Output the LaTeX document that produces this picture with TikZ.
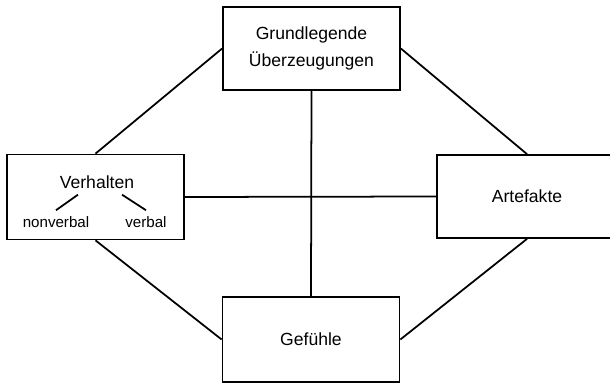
\documentclass[tikz,border=0pt]{standalone}
\usepackage{fontspec}
\setmainfont{Liberation Sans}
\usetikzlibrary{positioning}
\tikzset{
    every node/.style={font=\fontsize{10}{15}\selectfont},
    kulturbox/.style={draw, line width=1pt, minimum width=3.54cm,
        minimum height=1.7cm, align=center},
    kleintext/.style={font=\fontsize{8.6}{10}\selectfont},
    verbindung/.style={line width=1pt},
}

\begin{document}
\begin{tikzpicture}[x=0.02cm, y=-0.02cm]
            \useasboundingbox (0, 0) rectangle (610, 385);
            \clip (0, 0) rectangle (610, 385);
            \node[kulturbox, minimum height=1.66cm] (ueberz) at (311.5, 48.5)
                {Grundlegende\\Überzeugungen};
            \node[kulturbox] (verhalten) at (95.5, 197) {};
            \node[kulturbox, minimum width=3.6cm, minimum height=1.66cm]
                (artefakte) at (527, 196.5) {Artefakte};
            \node[kulturbox] (gefuehle) at (311, 339.5) {Gefühle};
            % Inhalt der Verhaltensbox
            \node (vtext) at (97, 182) {Verhalten};
            \node[kleintext] (nonverbal) at (56, 222) {nonverbal};
            \node[kleintext] (verbal) at (146, 222) {verbal};
            \draw[verbindung] ([xshift=-0.38cm]vtext.south) -- (nonverbal.north);
            \draw[verbindung] ([xshift=0.5cm]vtext.south) -- (verbal.north);
            % Kreuz in der Mitte
            \draw[verbindung] (ueberz.south) -- (gefuehle.north);
            \draw[verbindung] (verhalten.east) -- (artefakte.west);
            % Raute aussen
            \draw[verbindung] (ueberz.west) -- (verhalten.north);
            \draw[verbindung] (ueberz.east) -- (artefakte.north);
            \draw[verbindung] (verhalten.south) -- (gefuehle.west);
            \draw[verbindung] (artefakte.south) -- (gefuehle.east);
        \end{tikzpicture}
\end{document}
